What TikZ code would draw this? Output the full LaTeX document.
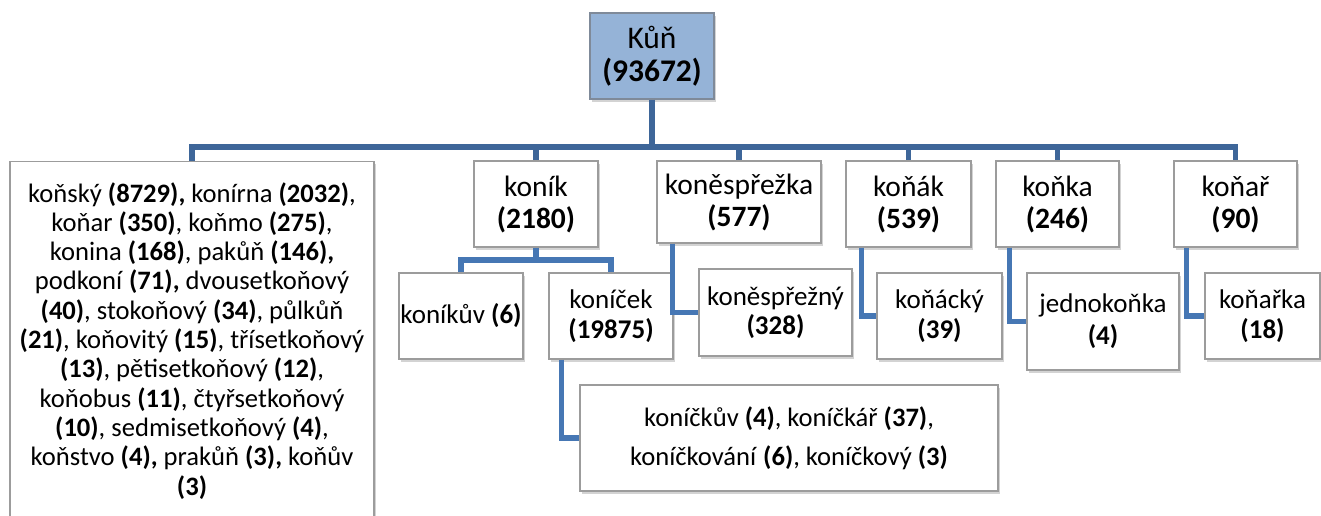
\documentclass[tikz,border=0pt]{standalone}
\usepackage{fontspec}
\setmainfont{Carlito}
\usepackage{xcolor}
\usetikzlibrary{shadows}
\definecolor{rootfill}{HTML}{95B3D7}
\definecolor{boxgray}{HTML}{9C9C9C}
\definecolor{rootgray}{HTML}{7F8A99}
\definecolor{barblue}{HTML}{3E6699}
\definecolor{linkblue}{HTML}{4677B4}

\tikzset{
  box/.style={draw=boxgray,line width=1.3pt,fill=white,align=center,
    inner sep=0pt,
    drop shadow={shadow xshift=1.5pt,shadow yshift=-2.5pt,opacity=.35}},
  rootbox/.style={box,draw=rootgray,fill=rootfill,
    font=\fontsize{31.5}{33}\selectfont},
  lvlone/.style={box,font=\fontsize{29.5}{32}\selectfont},
  lvltwo/.style={box,font=\fontsize{27}{29.5}\selectfont},
  barlink/.style={barblue,line width=5.5pt},
  link/.style={linkblue,line width=5.5pt}
}

\begin{document}
\begin{tikzpicture}[x=1pt,y=-1pt]
  \useasboundingbox (0,0) rectangle (1321,515);

  % root
  \node[rootbox,minimum width=124,minimum height=86] (kun) at (652,56)
    {Kůň\\\textbf{(93672)}};

  % first level
  \node[box,font=\fontsize{26.6}{29.3}\selectfont,
    minimum width=364,minimum height=358,anchor=north] (misc) at (192,161)
    {koňský \textbf{(8729),} konírna \textbf{(2032)},\\
     koňar \textbf{(350)}, koňmo \textbf{(275)},\\
     konina \textbf{(168)}, pakůň \textbf{(146),}\\
     podkoní \textbf{(71),} dvousetkoňový\\
     \textbf{(40)}, stokoňový \textbf{(34)}, půlkůň\\
     \textbf{(21)}, koňovitý \textbf{(15)}, třísetkoňový\\
     \textbf{(13)}, pětisetkoňový \textbf{(12)},\\
     koňobus \textbf{(11)}, čtyřsetkoňový\\
     \textbf{(10)}, sedmisetkoňový \textbf{(4)},\\
     koňstvo \textbf{(4),} prakůň \textbf{(3),} koňův\\
     \textbf{(3)}};
  \node[lvlone,minimum width=124,minimum height=86] (konik) at (536,204)
    {koník\\\textbf{(2180)}};
  \node[lvlone,minimum width=164,minimum height=82] (sprezka) at (739,202)
    {koněspřežka\\\textbf{(577)}};
  \node[lvlone,minimum width=125,minimum height=86] (konak) at (908.5,204)
    {koňák\\\textbf{(539)}};
  \node[lvlone,minimum width=123,minimum height=86] (konka) at (1057.5,204)
    {koňka\\\textbf{(246)}};
  \node[lvlone,minimum width=123,minimum height=86] (konar) at (1235.5,204)
    {koňař\\\textbf{(90)}};

  % second level
  \node[lvltwo,minimum width=124,minimum height=86] (konikuv) at (461,316)
    {koníkův \textbf{(6)}};
  \node[lvltwo,minimum width=124,minimum height=86] (konicek) at (611,316)
    {koníček\\\textbf{(19875)}};
  \node[lvltwo,minimum width=153,minimum height=87] (sprezny) at (775.5,312.5)
    {koněspřežný\\\textbf{(328)}};
  \node[lvltwo,minimum width=125,minimum height=86] (konacky) at (939.5,316)
    {koňácký\\\textbf{(39)}};
  \node[lvltwo,font=\fontsize{27}{32}\selectfont,
    minimum width=152,minimum height=97] (jednokonka) at (1103,321.5)
    {jednokoňka\\\textbf{(4)}};
  \node[lvltwo,minimum width=115,minimum height=86] (konarka) at (1262.5,316)
    {koňařka\\\textbf{(18)}};

  % third level
  \node[lvltwo,font=\fontsize{26.6}{39}\selectfont,
    minimum width=418,minimum height=106] (konicky) at (789,438)
    {koníčkův \textbf{(4)}, koníčkář \textbf{(37)},\\
     koníčkování \textbf{(6)}, koníčkový \textbf{(3)}};

  % connectors
  \coordinate (hub) at (652,147);
  \draw[barlink] (kun.south) -- (hub);
  \foreach \n in {misc,konik,sprezka,konak,konka,konar}
    \draw[barlink] (hub) -| (\n.north);

  \coordinate (fork) at (536,260);
  \draw[link] (konik.south) -- (fork) -| (konikuv.north);
  \draw[link] (fork) -| (konicek.north);

  \draw[link] ([xshift=16pt]sprezka.south west) |- (sprezny.west);
  \draw[link] ([xshift=16pt]konak.south west) |- (konacky.west);
  \draw[link] ([xshift=14pt]konka.south west) |- (jednokonka.west);
  \draw[link] ([xshift=13pt]konar.south west) |- (konarka.west);
  \draw[link] ([xshift=13pt]konicek.south west) |- (konicky.west);
\end{tikzpicture}
\end{document}
